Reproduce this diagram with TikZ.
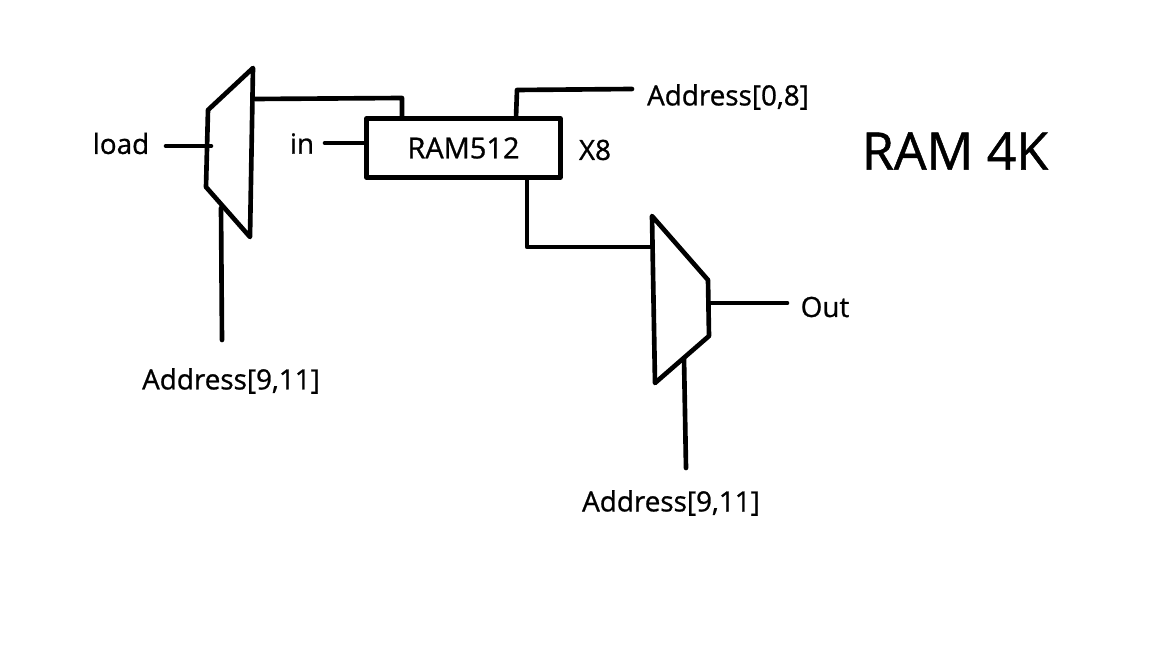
\documentclass[tikz,border=0pt]{standalone}
\usepackage{fontspec}
\setmainfont[RawFeature={embolden=0.9}]{Open Sans}
\tikzset{
  wire/.style={line width=3.3pt, line join=round, line cap=round},
  lbl/.style={inner sep=0pt, font=\fontsize{19.8pt}{24pt}\selectfont, text=black},
}
\begin{document}
\begin{tikzpicture}[x=0.025cm, y=-0.025cm]
    \useasboundingbox[fill=white] (0,0) rectangle (1152,648);
    % ram box
    \node[wire, draw, minimum width=4.84cm, minimum height=1.47cm, inner sep=0pt, lbl, font=\fontsize{20.6pt}{24pt}\selectfont] (ram) at (463.5,148) {\raisebox{-1.4pt}{RAM512}};
    % left mux
    \coordinate (m1a) at (208,110);
    \coordinate (m1b) at (253,68);
    \coordinate (m1c) at (250,237);
    \coordinate (m1d) at (206,187);
    \draw[wire] (m1a) -- (m1b) -- (m1c) -- (m1d) -- cycle;
    % right mux
    \coordinate (m2a) at (652,216);
    \coordinate (m2b) at (708,280);
    \coordinate (m2c) at (709,336);
    \coordinate (m2d) at (655,383);
    \draw[wire] (m2a) -- (m2b) -- (m2c) -- (m2d) -- cycle;
    % labels
    \node[lbl] (load) at (121,143.5) {load};
    \node[lbl] (in) at (302,143.5) {in};
    \node[lbl] (x8) at (595,150) {X8};
    \node[lbl] (addrhi) at (728,97) {Address[0,8]};
    \node[lbl] (addra) at (231,381) {Address[9,11]};
    \node[lbl] (addrb) at (671,503) {Address[9,11]};
    \node[lbl] (out) at (825,307) {Out};
    \node[lbl, font=\fontsize{36.8pt}{44pt}\selectfont] (title) at (955,151) {RAM 4K};
    % free ends
    \coordinate (e1) at (166,146);
    \coordinate (e2) at (211,146);
    \coordinate (e3) at (325,143);
    \coordinate (e4) at (221,208);
    \coordinate (e5) at (222,340);
    \coordinate (e6) at (255,99);
    \coordinate (e7) at (402,118);
    \coordinate (e8) at (516,118);
    \coordinate (e9) at (632,89);
    \coordinate (e10) at (527,178);
    \coordinate (e11) at (652,247);
    \coordinate (e12) at (709,303);
    \coordinate (e13) at (787,303);
    \coordinate (e14) at (684,358);
    \coordinate (e15) at (686,468);
    \draw[wire] (e1) -- (e2);
    \draw[wire] (e3) -- (ram.west |- e3);
    \draw[wire] (e4) -- (e5);
    \draw[wire] (e6) -- (402,98) -- (e7);
    \draw[wire] (e8) -- (517,90) -- (e9);
    \draw[wire] (e10) -- (527,247) -- (e11);
    \draw[wire] (e12) -- (e13);
    \draw[wire] (e14) -- (e15);
\end{tikzpicture}
\end{document}
